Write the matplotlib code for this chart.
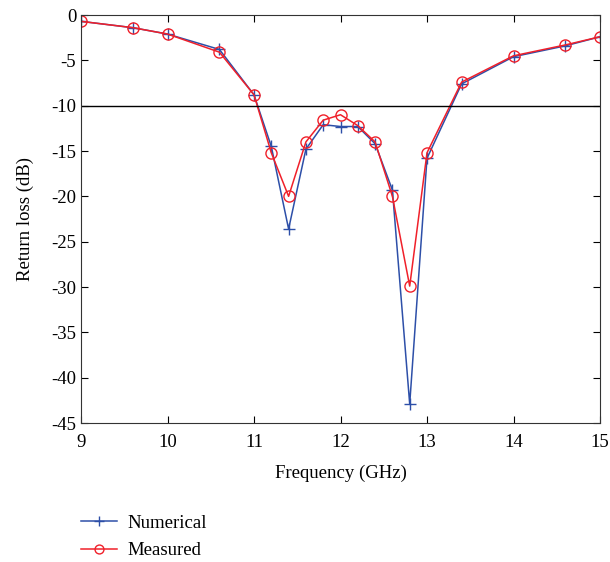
import numpy as np
import matplotlib.pyplot as plt

plt.rcParams['font.family'] = ['Liberation Serif', 'DejaVu Serif']
plt.rcParams['axes.unicode_minus'] = False

freq = [9, 9.6, 10, 10.6, 11, 11.2, 11.4, 11.6, 11.8, 12, 12.2, 12.4, 12.6, 12.8, 13, 13.4, 14, 14.6, 15]
numerical = [-0.7, -1.4, -2.1, -3.8, -8.8, -14.5, -23.6, -14.8, -12.1, -12.3, -12.3, -14.2,
             -19.3, -42.9, -15.8, -7.6, -4.6, -3.4, -2.4]
measured = [-0.7, -1.4, -2.1, -4.1, -8.8, -15.2, -20.0, -14.0, -11.6, -11.0, -12.2, -14.0,
            -20.0, -29.9, -15.2, -7.4, -4.5, -3.3, -2.4]

fig = plt.figure(figsize=(6.1, 5.62), dpi=100)
ax = fig.add_axes([81/610, 139/562, 519/610, 408/562])

l1, = ax.plot(freq, numerical, color='#2d4fa8', marker='+', markersize=9, lw=1.1, label='Numerical')
l2, = ax.plot(freq, measured, color='#f0202a', marker='o', markersize=8, markerfacecolor='none',
              lw=1.1, label='Measured')
ax.axhline(-10, color='black', lw=1)

ax.set_xlim(9, 15)
ax.set_ylim(-45, 0)
ax.set_xticks(np.arange(9, 16, 1))
ax.set_yticks(np.arange(-45, 1, 5))
ax.tick_params(direction='in', top=True, right=True, labelsize=13.5, length=5)
ax.tick_params(axis='x', pad=8)
ax.set_xlabel('Frequency (GHz)', fontsize=13.5, labelpad=10)
ax.set_ylabel('Return loss (dB)', fontsize=13.5, labelpad=12)
for s in ax.spines.values():
    s.set_color('#333333')

fig.legend(handles=[l1, l2], loc='lower left', bbox_to_anchor=(0.105, -0.025), frameon=False,
           fontsize=13.5, handlelength=1.9, handletextpad=0.6, labelspacing=0.55, markerscale=0.8)

fig.savefig('out.png')
